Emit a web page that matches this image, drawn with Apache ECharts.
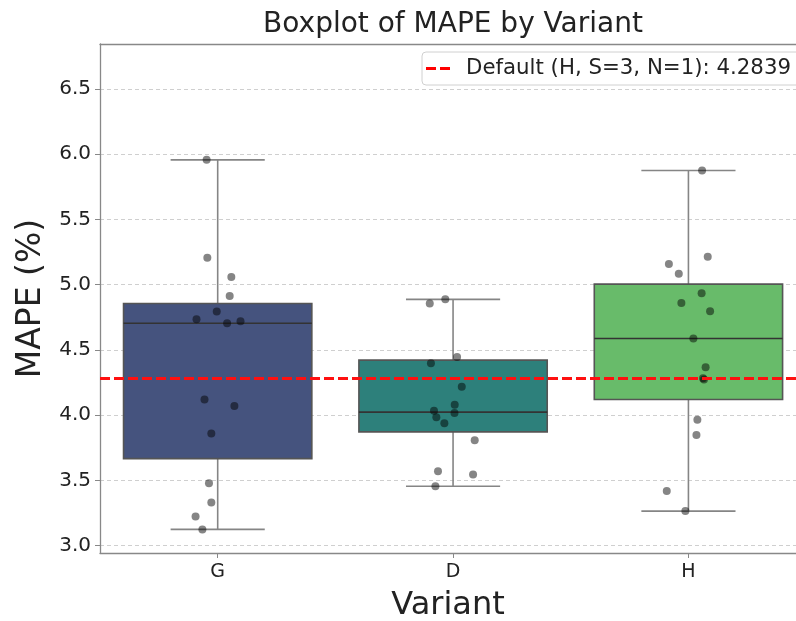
<!DOCTYPE html>
<html>
<head>
<meta charset="utf-8">
<script src="https://cdn.jsdelivr.net/npm/echarts@6/dist/echarts.min.js"></script>
<style>
  html, body { margin: 0; padding: 0; background: #fff; }
  #main { width: 796px; height: 621px; }
</style>
</head>
<body>
<div id="main"></div>
<script>
// variants and box stats (whisker low, q1, median, q3, whisker high)
var categories = ['G', 'D', 'H'];
var whiskerLow = [3.125, 3.456, 3.265];
var q1 = [3.667, 3.872, 4.121];
var median = [4.705, 4.024, 4.588];
var q3 = [4.856, 4.422, 5.005];
var whiskerHigh = [5.957, 4.888, 5.875];
var boxColors = ['#45537e', '#2d807b', '#68bb6a'];

// strip points: values and horizontal jitter (in category units)
var gValues = [5.957, 5.207, 5.059, 4.914, 4.794, 4.735, 4.705, 4.720, 4.121, 4.070, 3.859, 3.479, 3.331, 3.224, 3.125];
var gJitter = [-0.047, -0.044, 0.058, 0.051, -0.004, -0.09, 0.04, 0.097, -0.056, 0.071, -0.027, -0.037, -0.027, -0.094, -0.065];
var dValues = [4.888, 4.856, 4.447, 4.399, 4.218, 4.080, 4.034, 4.017, 3.984, 3.938, 3.808, 3.571, 3.545, 3.456];
var dJitter = [-0.033, -0.099, 0.017, -0.094, 0.037, 0.007, -0.081, 0.006, -0.071, -0.037, 0.092, -0.064, 0.085, -0.075];
var hValues = [5.875, 5.215, 5.158, 5.085, 4.934, 4.860, 4.797, 4.588, 4.368, 4.274, 4.284, 3.966, 3.849, 3.420, 3.265];
var hJitter = [0.058, 0.082, -0.083, -0.041, 0.056, -0.03, 0.092, 0.021, 0.073, 0.066, 0.062, 0.038, 0.034, -0.092, -0.013];

var defaultValue = 4.2839;
var defaultLabel = 'Default (H, S=3, N=1): 4.2839';

// the original axes run a bit past the right edge of the picture
var xMin = -0.5, xMax = 2.457;
var yMin = 2.944, yMax = 6.845;

var chart = echarts.init(document.getElementById('main'));

var boxData = categories.map(function (c, i) {
  return [i, whiskerLow[i], q1[i], median[i], q3[i], whiskerHigh[i]];
});

var pointData = [];
[gValues, dValues, hValues].forEach(function (vals, i) {
  var jit = [gJitter, dJitter, hJitter][i];
  vals.forEach(function (v, k) {
    pointData.push([i + jit[k], v]);
  });
});

function renderBox(params, api) {
  var i = api.value(0);
  var lo = api.coord([i, api.value(1)]);
  var b1 = api.coord([i, api.value(2)]);
  var md = api.coord([i, api.value(3)]);
  var b3 = api.coord([i, api.value(4)]);
  var hi = api.coord([i, api.value(5)]);
  var band = api.size([1, 0])[0];
  var bw = band * 0.8;
  var cw = bw * 0.5;
  var cx = lo[0];
  var wStyle = { stroke: '#858585', lineWidth: 1.6 };
  return {
    type: 'group',
    children: [
      { type: 'line', shape: { x1: cx, y1: lo[1], x2: cx, y2: b1[1] }, style: wStyle },
      { type: 'line', shape: { x1: cx, y1: b3[1], x2: cx, y2: hi[1] }, style: wStyle },
      { type: 'line', shape: { x1: cx - cw / 2, y1: lo[1], x2: cx + cw / 2, y2: lo[1] }, style: wStyle },
      { type: 'line', shape: { x1: cx - cw / 2, y1: hi[1], x2: cx + cw / 2, y2: hi[1] }, style: wStyle },
      {
        type: 'rect',
        shape: { x: cx - bw / 2, y: b3[1], width: bw, height: b1[1] - b3[1] },
        style: { fill: boxColors[i], stroke: '#555', lineWidth: 1.6 }
      },
      { type: 'line', shape: { x1: cx - bw / 2, y1: md[1], x2: cx + bw / 2, y2: md[1] }, style: { stroke: '#333', lineWidth: 1.6 } }
    ]
  };
}

var option = {
  animation: false,
  textStyle: { fontFamily: 'DejaVu Sans' },
  graphic: [{
    type: 'text',
    x: 453,
    y: 25,
    style: {
      text: 'Boxplot of MAPE by Variant',
      font: '28px DejaVu Sans',
      fill: '#222',
      align: 'center',
      verticalAlign: 'middle'
    }
  }],
  legend: {
    data: [{ name: defaultLabel, icon: 'path://M0,0H10V3H0Z M14,0H24V3H14Z' }],
    left: 422,
    top: 52,
    itemWidth: 24,
    itemHeight: 3,
    padding: [6, 30, 6, 4],
    backgroundColor: 'rgba(255,255,255,0.85)',
    borderColor: '#d0d0d0',
    borderWidth: 1,
    borderRadius: 4,
    textStyle: { fontSize: 21.3, color: '#222', padding: [0, 0, 0, 11] }
  },
  grid: { left: 100, top: 44, right: 0, bottom: 68, outerBoundsMode: 'none' },
  xAxis: [{
    type: 'value',
    min: xMin,
    max: xMax,
    name: 'Variant',
    nameLocation: 'middle',
    nameGap: 37,
    nameTextStyle: { fontSize: 32, color: '#222' },
    axisLine: { show: true, onZero: false, lineStyle: { color: '#888', width: 1.3 } },
    axisTick: { show: true, length: 5, customValues: [0, 1, 2], lineStyle: { color: '#888' } },
    axisLabel: {
      fontSize: 19,
      color: '#222',
      margin: 10,
      customValues: [0, 1, 2],
      formatter: function (v) { return categories[Math.round(v)]; }
    },
    splitLine: { show: false }
  }, {
    type: 'value',
    position: 'top',
    min: xMin,
    max: xMax,
    axisLine: { show: true, onZero: false, lineStyle: { color: '#888', width: 1.3 } },
    axisTick: { show: false },
    axisLabel: { show: false },
    splitLine: { show: false }
  }],
  yAxis: {
    type: 'value',
    min: yMin,
    max: yMax,
    splitNumber: 8,
    name: 'MAPE (%)',
    nameLocation: 'middle',
    nameGap: 51,
    nameTextStyle: { fontSize: 33, color: '#222' },
    axisLine: { show: true, onZero: false, lineStyle: { color: '#888', width: 1.3 } },
    axisTick: { show: true, length: 5, lineStyle: { color: '#888' } },
    axisLabel: {
      fontSize: 20,
      color: '#222',
      margin: 9,
      showMinLabel: false,
      showMaxLabel: false,
      formatter: function (v) {
        var r = Math.round(v * 2) / 2;
        return Math.abs(r - v) < 1e-6 ? r.toFixed(1) : '';
      }
    },
    splitLine: { show: true, lineStyle: { color: '#cfcfcf', type: [4, 3], width: 1 } }
  },
  series: [{
    type: 'custom',
    renderItem: renderBox,
    data: boxData,
    encode: { x: 0, y: [1, 2, 3, 4, 5] },
    z: 2
  }, {
    name: defaultLabel,
    type: 'line',
    data: [],
    color: '#ff0000',
    lineStyle: { color: '#ff0000', type: [10, 4], width: 3 },
    markLine: {
      silent: true,
      symbol: 'none',
      label: { show: false },
      lineStyle: { color: '#ff1010', type: [10, 4], width: 3, opacity: 1 },
      data: [{ yAxis: defaultValue }]
    },
    z: 3
  }, {
    type: 'scatter',
    data: pointData,
    symbolSize: 8,
    itemStyle: { color: 'rgba(0,0,0,0.6)' },
    z: 4
  }]
};

chart.setOption(option);
</script>
</body>
</html>
